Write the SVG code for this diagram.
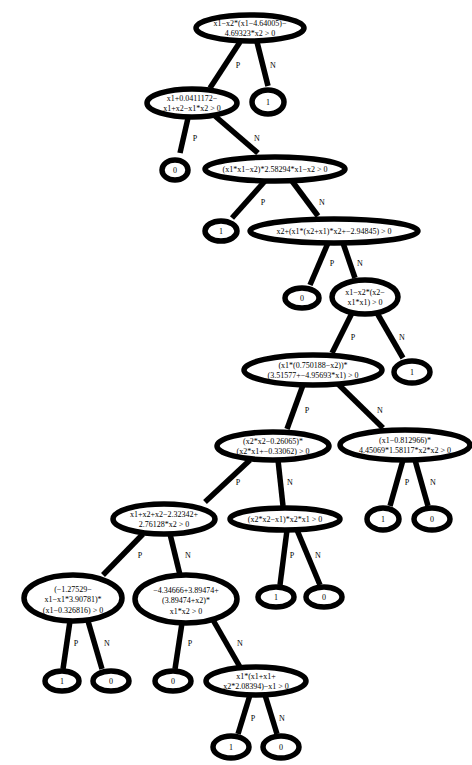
<svg xmlns="http://www.w3.org/2000/svg" width="472" height="765" viewBox="0 0 472 765">
<style>
.n ellipse{fill:#fff;stroke:#000;stroke-width:5.5}
text{font-family:"Liberation Serif","Times New Roman",serif;font-size:8px;fill:#000;text-anchor:middle}
.e line{stroke:#000;stroke-width:5.5}
svg > g{opacity:0.999}
</style>
<rect width="472" height="765" fill="#fff"/>
<g id="edges" class="e">
<line x1="240" y1="42" x2="210" y2="88"/>
<line x1="257" y1="42" x2="268" y2="86"/>
<line x1="188" y1="118" x2="180" y2="153"/>
<line x1="215" y1="116" x2="258" y2="153"/>
<line x1="265" y1="181" x2="232" y2="218"/>
<line x1="292" y1="181" x2="318" y2="216"/>
<line x1="328" y1="243" x2="310" y2="285"/>
<line x1="343" y1="243" x2="355" y2="278"/>
<line x1="352" y1="313" x2="332" y2="353"/>
<line x1="377" y1="313" x2="403" y2="358"/>
<line x1="303" y1="385" x2="287" y2="429"/>
<line x1="338" y1="384" x2="383" y2="428"/>
<line x1="250" y1="460" x2="205" y2="502"/>
<line x1="278" y1="460" x2="283" y2="506"/>
<line x1="403" y1="460" x2="390" y2="506"/>
<line x1="415" y1="460" x2="428" y2="506"/>
<line x1="287" y1="530" x2="280" y2="585"/>
<line x1="297" y1="530" x2="320" y2="585"/>
<line x1="143" y1="534" x2="103" y2="575"/>
<line x1="170" y1="534" x2="180" y2="575"/>
<line x1="70" y1="621" x2="63" y2="669"/>
<line x1="88" y1="621" x2="102" y2="669"/>
<line x1="182" y1="623" x2="175" y2="669"/>
<line x1="213" y1="620" x2="240" y2="667"/>
<line x1="250" y1="695" x2="238" y2="734"/>
<line x1="265" y1="695" x2="277" y2="734"/>
<text x="238" y="68">P</text><text x="273" y="68">N</text>
<text x="195" y="141">P</text><text x="257" y="141">N</text>
<text x="263" y="205">P</text><text x="322" y="205">N</text>
<text x="332" y="266">P</text><text x="360" y="266">N</text>
<text x="353" y="340">P</text><text x="402" y="340">N</text>
<text x="307" y="413">P</text><text x="380" y="413">N</text>
<text x="238" y="485">P</text><text x="290" y="485">N</text>
<text x="407" y="485">P</text><text x="433" y="485">N</text>
<text x="292" y="558">P</text><text x="318" y="558">N</text>
<text x="140" y="558">P</text><text x="188" y="558">N</text>
<text x="76" y="646">P</text><text x="107" y="646">N</text>
<text x="190" y="646">P</text><text x="240" y="646">N</text>
<text x="253" y="721">P</text><text x="282" y="721">N</text>
</g>
<g id="n1" class="n"><ellipse cx="250" cy="28" rx="54" ry="13"/><text x="250" y="26">x1−x2*(x1−4.64005)−</text><text x="250" y="36">4.69323*x2 &gt; 0</text></g>
<g id="l1" class="n"><ellipse cx="268" cy="102" rx="16" ry="12"/><text x="268" y="105">1</text></g>
<g id="n2" class="n"><ellipse cx="192" cy="103" rx="45" ry="14"/><text x="192" y="101">x1+0.0411172−</text><text x="192" y="111">x1+x2−x1*x2 &gt; 0</text></g>
<g id="l2" class="n"><ellipse cx="175" cy="170" rx="13" ry="10"/><text x="175" y="173">0</text></g>
<g id="n3" class="n"><ellipse cx="275" cy="169" rx="70" ry="12"/><text x="275" y="172">(x1*x1−x2)*2.58294*x1−x2 &gt; 0</text></g>
<g id="l3" class="n"><ellipse cx="221" cy="231" rx="16" ry="10"/><text x="221" y="234">1</text></g>
<g id="n4" class="n"><ellipse cx="334" cy="231" rx="84" ry="12"/><text x="334" y="234">x2+(x1*(x2+x1)*x2+−2.94845) &gt; 0</text></g>
<g id="l4" class="n"><ellipse cx="302" cy="298" rx="17" ry="10"/><text x="302" y="301">0</text></g>
<g id="n5" class="n"><ellipse cx="365" cy="297" rx="33" ry="17"/><text x="365" y="295">x1−x2*(x2−</text><text x="365" y="305">x1*x1) &gt; 0</text></g>
<g id="n6" class="n"><ellipse cx="313" cy="370" rx="69" ry="15"/><text x="313" y="368">(x1*(0.750188−x2))*</text><text x="313" y="378">(3.51577+−4.95693*x1) &gt; 0</text></g>
<g id="l5" class="n"><ellipse cx="412" cy="372" rx="18" ry="11"/><text x="412" y="375">1</text></g>
<g id="n7" class="n"><ellipse cx="273" cy="446" rx="56" ry="14"/><text x="273" y="444">(x2*x2−0.26065)*</text><text x="273" y="454">(x2*x1+−0.33062) &gt; 0</text></g>
<g id="n8" class="n"><ellipse cx="405" cy="445" rx="65" ry="15"/><text x="405" y="443">(x1−0.812966)*</text><text x="405" y="453">4.45069*1.58117*x2*x2 &gt; 0</text></g>
<g id="l6" class="n"><ellipse cx="383" cy="519" rx="16" ry="11"/><text x="383" y="522">1</text></g>
<g id="l7" class="n"><ellipse cx="432" cy="519" rx="18" ry="11"/><text x="432" y="522">0</text></g>
<g id="n10" class="n"><ellipse cx="285" cy="519" rx="55" ry="11"/><text x="285" y="522">(x2*x2−x1)*x2*x1 &gt; 0</text></g>
<g id="n9" class="n"><ellipse cx="164" cy="519" rx="51" ry="15"/><text x="164" y="517">x1+x2+x2−2.32342+</text><text x="164" y="527">2.76128*x2 &gt; 0</text></g>
<g id="l8" class="n"><ellipse cx="276" cy="597" rx="18" ry="10"/><text x="276" y="600">1</text></g>
<g id="l9" class="n"><ellipse cx="324" cy="597" rx="18" ry="10"/><text x="324" y="600">0</text></g>
<g id="n12" class="n"><ellipse cx="186" cy="599" rx="51" ry="24"/><text x="186" y="593">−4.34666+3.89474+</text><text x="186" y="603">(3.89474+x2)*</text><text x="186" y="614">x1*x2 &gt; 0</text></g>
<g id="n11" class="n"><ellipse cx="73" cy="598" rx="49" ry="23"/><text x="73" y="592">(−1.27529−</text><text x="73" y="602">x1−x1*3.90781)*</text><text x="73" y="613">(x1−0.326816) &gt; 0</text></g>
<g id="l10" class="n"><ellipse cx="62" cy="681" rx="17" ry="10"/><text x="62" y="684">1</text></g>
<g id="l11" class="n"><ellipse cx="111" cy="681" rx="18" ry="10"/><text x="111" y="684">0</text></g>
<g id="l12" class="n"><ellipse cx="173" cy="681" rx="18" ry="10"/><text x="173" y="684">0</text></g>
<g id="n13" class="n"><ellipse cx="256" cy="681" rx="50" ry="14"/><text x="256" y="679">x1*(x1+x1+</text><text x="256" y="689">x2*2.08394)−x1 &gt; 0</text></g>
<g id="l13" class="n"><ellipse cx="231" cy="747" rx="18" ry="11"/><text x="231" y="750">1</text></g>
<g id="l14" class="n"><ellipse cx="281" cy="747" rx="18" ry="11"/><text x="281" y="750">0</text></g>
</svg>
